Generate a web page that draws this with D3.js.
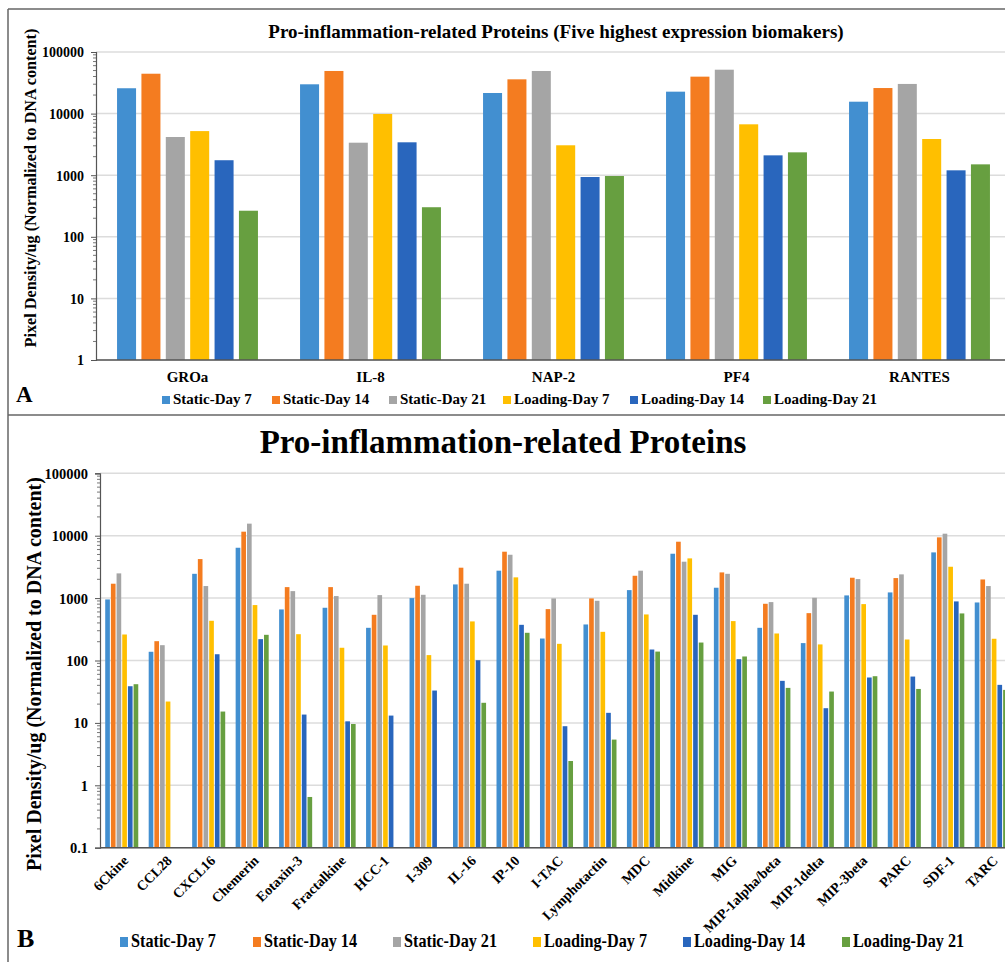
<!DOCTYPE html>
<html>
<head>
<meta charset="utf-8">
<script src="https://cdn.jsdelivr.net/npm/d3@7"></script>
<style>
  body { margin: 0; background: #fff; }
  svg text { font-family: "Liberation Serif", "Times New Roman", serif; font-weight: bold; fill: #000; }
</style>
</head>
<body>
<svg id="chart" width="1005" height="962"></svg>
<script>
// series
var seriesNames = ["Static-Day 7", "Static-Day 14", "Static-Day 21", "Loading-Day 7", "Loading-Day 14", "Loading-Day 21"];
var seriesColors = ["#428fd0", "#f47c20", "#a5a5a5", "#ffbf00", "#2966bd", "#679f40"];

// panel A
var topCats = ["GROa", "IL-8", "NAP-2", "PF4", "RANTES"];
var topValues = [
    [25800, 44400, 4170, 5200, 1750, 265],
    [29900, 49200, 3370, 9860, 3420, 302],
    [21600, 36000, 49200, 3060, 935, 970],
    [22700, 39800, 51600, 6700, 2100, 2350],
    [15600, 26000, 30300, 3870, 1200, 1500]
];
var topTicks = [1, 10, 100, 1000, 10000, 100000];

// panel B
var botCats = ["6Ckine", "CCL28", "CXCL16", "Chemerin", "Eotaxin-3", "Fractalkine", "HCC-1", "I-309", "IL-16", "IP-10",
    "I-TAC", "Lymphotactin", "MDC", "Midkine", "MIG", "MIP-1alpha/beta", "MIP-1delta", "MIP-3beta", "PARC", "SDF-1", "TARC"];
var botValues = [
    [952, 1700, 2490, 261, 38.7, 41.7],
    [138, 204, 176, 22, null, null],
    [2450, 4220, 1560, 433, 126, 15.2],
    [6410, 11600, 15600, 773, 220, 258],
    [658, 1500, 1294, 264, 13.6, 0.65],
    [700, 1500, 1077, 160, 10.6, 9.6],
    [334, 540, 1117, 174, 13.1, null],
    [1000, 1577, 1130, 122, 33, null],
    [1656, 3070, 1700, 423, 101, 21],
    [2750, 5540, 4950, 2150, 373, 278],
    [225, 666, 988, 185, 8.85, 2.45],
    [378, 988, 906, 288, 14.5, 5.4],
    [1343, 2280, 2750, 547, 150, 139],
    [5140, 8010, 3830, 4330, 540, 194],
    [1466, 2580, 2450, 428, 105, 116],
    [334, 811, 863, 271, 47.2, 36.4],
    [190, 574, 1012, 181, 17.2, 31.8],
    [1104, 2120, 2017, 801, 53.4, 56],
    [1233, 2094, 2400, 217, 55.3, 35],
    [5400, 9400, 10770, 3180, 885, 568],
    [851, 1990, 1560, 223, 40.7, 33.8]
];
var botTicks = [0.1, 1, 10, 100, 1000, 10000, 100000];

var svg = d3.select("#chart");

// panel frames
svg.append("line").attr("x1", 8).attr("x2", 1005).attr("y1", 9).attr("y2", 9).attr("stroke", "#666").attr("stroke-width", 1.5);
svg.append("line").attr("x1", 8).attr("x2", 1005).attr("y1", 415).attr("y2", 415).attr("stroke", "#666").attr("stroke-width", 1.5);
svg.append("line").attr("x1", 8).attr("x2", 8).attr("y1", 9).attr("y2", 962).attr("stroke", "#666").attr("stroke-width", 1.5);

function drawPanel(opt) {
    var g = svg.append("g");
    var y = d3.scaleLog().domain(opt.domain).range([opt.bottom, opt.top]);
    var x0 = d3.scaleBand().domain(opt.cats).range([opt.left, opt.right])
        .paddingInner(opt.pad0).paddingOuter(opt.pad0 / 2);
    var x1 = d3.scaleBand().domain(d3.range(seriesNames.length)).range([0, x0.bandwidth()])
        .paddingInner(opt.pad1).paddingOuter(0);

    // gridlines
    g.selectAll(".grid").data(opt.ticks).enter().append("line")
        .attr("x1", opt.left).attr("x2", 1005)
        .attr("y1", function(d) { return y(d); }).attr("y2", function(d) { return y(d); })
        .attr("stroke", "#dcdcdc").attr("stroke-width", 1.5);

    // bars
    var groups = g.selectAll(".grp").data(opt.values).enter().append("g")
        .attr("transform", function(d, i) { return "translate(" + x0(opt.cats[i]) + ",0)"; });
    groups.selectAll("rect")
        .data(function(row) {
            return row.map(function(v, k) { return { k: k, v: v }; })
                .filter(function(d) { return d.v != null; });
        })
        .enter().append("rect")
        .attr("x", function(d) { return x1(d.k); })
        .attr("y", function(d) { return y(d.v); })
        .attr("width", x1.bandwidth())
        .attr("height", function(d) { return opt.bottom - y(d.v); })
        .attr("fill", function(d) { return seriesColors[d.k]; });

    // y axis with log minor ticks
    var axis = d3.axisLeft(y).tickValues(opt.ticks).tickSize(5).tickFormat(function(d) { return String(d); });
    var ax = g.append("g").attr("transform", "translate(" + opt.left + ",0)").call(axis);
    ax.select(".domain").attr("stroke", "#555").attr("stroke-width", 1.2);
    ax.selectAll(".tick line").attr("stroke", "#555");
    ax.selectAll("text").style("font-size", opt.tickFont + "px").attr("x", -12).attr("dy", "0.35em");
    var minors = y.ticks().filter(function(d) { return opt.ticks.indexOf(d) < 0; });
    g.selectAll(".minor").data(minors).enter().append("line")
        .attr("x1", opt.left - 3).attr("x2", opt.left)
        .attr("y1", function(d) { return y(d); }).attr("y2", function(d) { return y(d); })
        .attr("stroke", "#555").attr("stroke-width", 0.8);

    // x axis line
    g.append("line").attr("x1", opt.left).attr("x2", 1005).attr("y1", opt.bottom).attr("y2", opt.bottom)
        .attr("stroke", "#555").attr("stroke-width", 1.5);

    return { x0: x0, y: y, g: g };
}

// ---- panel A
var pa = drawPanel({
    cats: topCats, values: topValues, ticks: topTicks, domain: [1, 100000],
    left: 96, right: 1011, top: 52, bottom: 360, pad0: 0.23, pad1: 0.22, tickFont: 14
});
pa.g.selectAll(".xl").data(topCats).enter().append("text")
    .attr("x", function(d) { return pa.x0(d) + pa.x0.bandwidth() / 2; })
    .attr("y", 382).attr("text-anchor", "middle").style("font-size", "15px")
    .text(function(d) { return d; });
svg.append("text").attr("x", 556).attr("y", 38).attr("text-anchor", "middle").style("font-size", "19px")
    .text("Pro-inflammation-related  Proteins (Five highest expression biomakers)");
svg.append("text").attr("transform", "translate(36,188) rotate(-90)").attr("text-anchor", "middle").style("font-size", "16.2px")
    .text("Pixel Density/ug (Normalized to DNA content)");
svg.append("text").attr("x", 16).attr("y", 402).style("font-size", "23px").text("A");

var legA = [162, 272, 389, 503, 630, 763];
var la = svg.append("g").selectAll("g").data(seriesNames).enter().append("g")
    .attr("transform", function(d, i) { return "translate(" + legA[i] + ",404)"; });
la.append("rect").attr("x", 0).attr("y", -8).attr("width", 8).attr("height", 8)
    .attr("fill", function(d, i) { return seriesColors[i]; });
la.append("text").attr("x", 11).attr("y", 0).style("font-size", "15px").text(function(d) { return d; });

// ---- panel B
var pb = drawPanel({
    cats: botCats, values: botValues, ticks: botTicks, domain: [0.1, 100000],
    left: 100, right: 1013, top: 473.3, bottom: 847.7, pad0: 0.24, pad1: 0.18, tickFont: 14.5
});
pb.g.selectAll(".xl").data(botCats).enter().append("text")
    .attr("transform", function(d) {
        return "translate(" + (pb.x0(d) + pb.x0.bandwidth() / 2 + 4) + ",858) rotate(-45)";
    })
    .attr("text-anchor", "end").attr("dy", "0.35em").style("font-size", "14px")
    .text(function(d) { return d; });
svg.append("text").attr("x", 503).attr("y", 453).attr("text-anchor", "middle").style("font-size", "33px")
    .text("Pro-inflammation-related Proteins");
svg.append("text").attr("transform", "translate(41,674) rotate(-90)").attr("text-anchor", "middle").style("font-size", "20px")
    .text("Pixel Density/ug (Normalized to DNA content)");
svg.append("text").attr("x", 17).attr("y", 947).style("font-size", "26px").text("B");

var legB = [120, 253, 393, 533, 683, 842];
var lb = svg.append("g").selectAll("g").data(seriesNames).enter().append("g")
    .attr("transform", function(d, i) { return "translate(" + legB[i] + ",947)"; });
lb.append("rect").attr("x", 0).attr("y", -10).attr("width", 8).attr("height", 10)
    .attr("fill", function(d, i) { return seriesColors[i]; });
lb.append("text").attr("transform", "translate(11,0) scale(0.9,1)").style("font-size", "18px").text(function(d) { return d; });
</script>
</body>
</html>
